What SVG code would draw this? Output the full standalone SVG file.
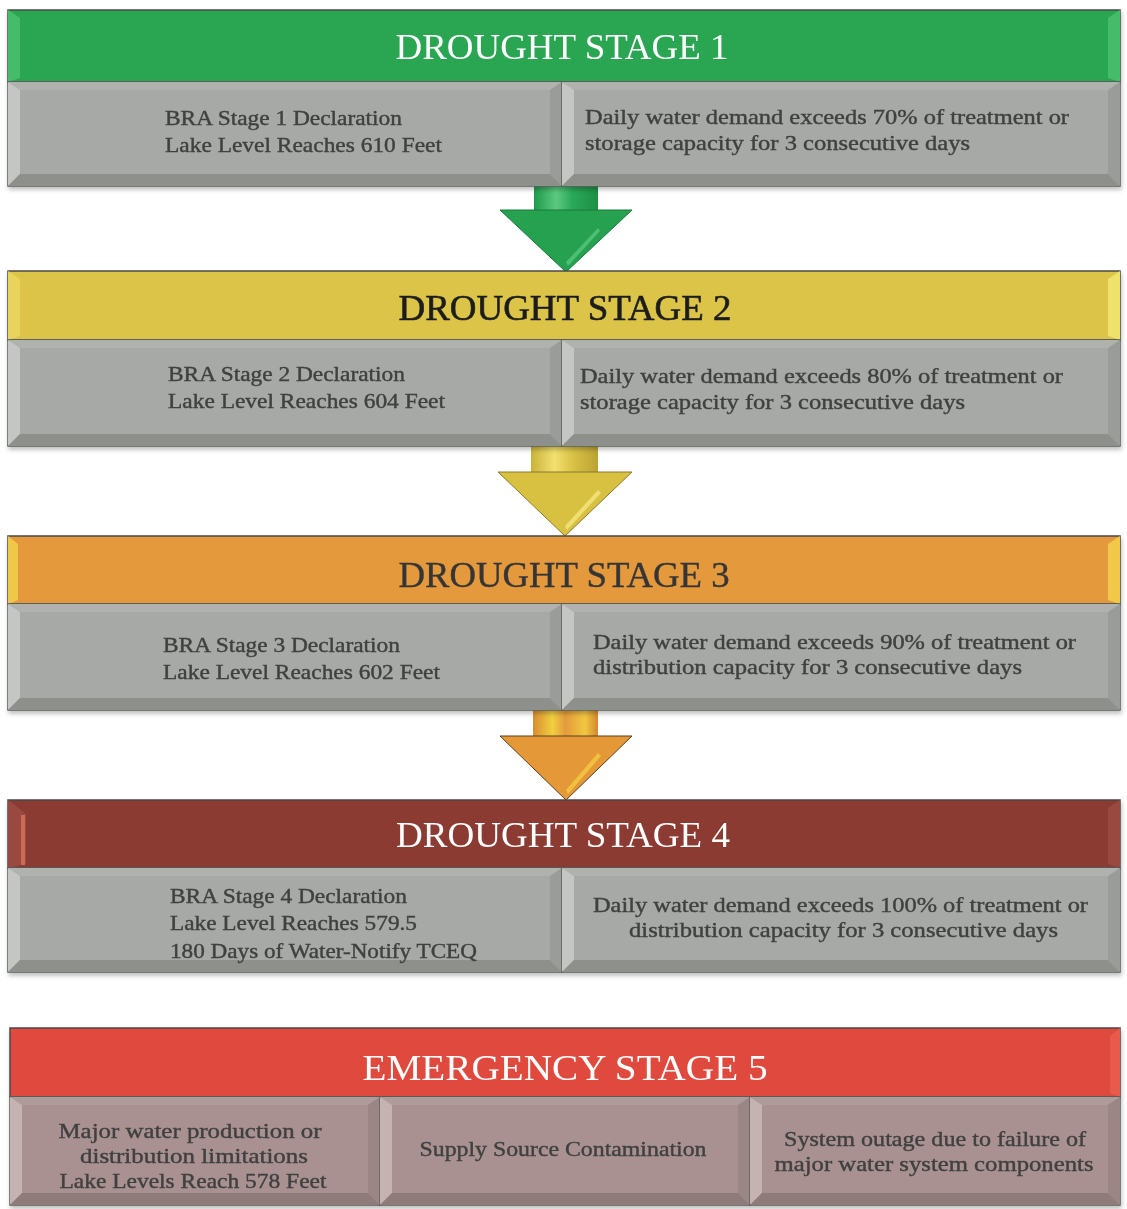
<svg xmlns="http://www.w3.org/2000/svg" width="1127" height="1209" viewBox="0 0 1127 1209">
<style>
.base{fill:#a6a9a5;stroke:#5c5e5b;stroke-width:1.5}
.bt{fill:#afb2ae}.bl{fill:#c3c6c2}.br{fill:#999c98}.bb{fill:#8e908c}
.pink .base{fill:#a89190}.pink .bt{fill:#af9b9a}.pink .bl{fill:#c4b3b2}.pink .br{fill:#9c8685}.pink .bb{fill:#8f7b7a}
.body{font-family:"Liberation Serif","Times New Roman",serif;font-size:21px;fill:#404040;stroke:#404040;stroke-width:0.4}
.title{font-family:"Liberation Serif","Times New Roman",serif;font-size:36px;text-anchor:middle}
.ban{stroke:#4a4a4a;stroke-width:1.5}
</style>
<defs>
<linearGradient id="gShaft" x1="0" x2="1" y1="0" y2="0"><stop offset="0" stop-color="#1f9a4a"/><stop offset="0.35" stop-color="#5cc980"/><stop offset="0.6" stop-color="#2aa85a"/><stop offset="1" stop-color="#1d8f44"/></linearGradient>
<linearGradient id="yShaft" x1="0" x2="1" y1="0" y2="0"><stop offset="0" stop-color="#c9b23a"/><stop offset="0.35" stop-color="#f2e070"/><stop offset="0.6" stop-color="#dcc448"/><stop offset="1" stop-color="#b9a232"/></linearGradient>
<linearGradient id="oShaft" x1="0" x2="1" y1="0" y2="0"><stop offset="0" stop-color="#d98c32"/><stop offset="0.3" stop-color="#f0d040"/><stop offset="0.5" stop-color="#e49a3c"/><stop offset="0.8" stop-color="#f0c840"/><stop offset="1" stop-color="#d4862e"/></linearGradient>
<filter id="sh" x="-5%" y="-10%" width="110%" height="130%"><feDropShadow dx="1" dy="3" stdDeviation="2" flood-color="#000" flood-opacity="0.25"/></filter>
</defs>

<g id="connectors">
<g id="arrow1">
<rect x="534" y="183" width="64" height="28" fill="url(#gShaft)"/>
<polygon points="500,210 632,210 566,272" fill="#25a150" stroke="#1c7a3c" stroke-width="1"/>
<polygon points="566,262 598,228 600,231 568,266" fill="#5ccc84" opacity="0.7"/>
</g>
<g id="arrow2">
<rect x="531" y="446" width="67" height="27" fill="url(#yShaft)"/>
<polygon points="498,472 632,472 565,536" fill="#d8c040" stroke="#8a7a30" stroke-width="1"/>
<polygon points="565,526 598,490 601,493 567,530" fill="#f5e680" opacity="0.8"/>
</g>
<g id="arrow3">
<rect x="533" y="708" width="65" height="29" fill="url(#oShaft)"/>
<polygon points="500,736 632,736 566,800" fill="#e49838" stroke="#5a4020" stroke-width="1"/>
<polygon points="566,790 598,753 601,756 568,794" fill="#f2c840" opacity="0.85"/>
</g>
</g>

<g id="stage1" filter="url(#sh)">
<rect class="ban" x="8" y="10" width="1112" height="72" fill="#2ba653"/>
<polygon points="8,10 20,18 20,78 8,82" fill="#45bc6b"/>
<polygon points="1120,10 1108,18 1108,78 1120,82" fill="#45bc6b"/>
<text class="title" x="562" y="59" fill="#ffffff" textLength="333" lengthAdjust="spacingAndGlyphs">DROUGHT STAGE 1</text>
<g id="s1-left">
<rect class="base" x="8" y="82" width="554" height="104"/>
<polygon class="bt" points="8,82 562,82 550,90 20,90"/>
<polygon class="bl" points="8,82 20,90 20,174 8,186"/>
<polygon class="br" points="562,82 562,186 550,174 550,90"/>
<polygon class="bb" points="8,186 562,186 550,174 20,174"/>
<text class="body" x="165" y="125" textLength="237" lengthAdjust="spacingAndGlyphs">BRA Stage 1 Declaration</text>
<text class="body" x="165" y="152" textLength="277" lengthAdjust="spacingAndGlyphs">Lake Level Reaches 610 Feet</text>
</g>
<g id="s1-right">
<rect class="base" x="562" y="82" width="558" height="104"/>
<polygon class="bt" points="562,82 1120,82 1108,90 574,90"/>
<polygon class="bl" points="562,82 574,90 574,174 562,186"/>
<polygon class="br" points="1120,82 1120,186 1108,174 1108,90"/>
<polygon class="bb" points="562,186 1120,186 1108,174 574,174"/>
<text class="body" x="585" y="124" textLength="484" lengthAdjust="spacingAndGlyphs">Daily water demand exceeds 70% of treatment or</text>
<text class="body" x="585" y="150" textLength="385" lengthAdjust="spacingAndGlyphs">storage capacity for 3 consecutive days</text>
</g>
</g>

<g id="stage2" filter="url(#sh)">
<rect class="ban" x="8" y="271" width="1112" height="69" fill="#dcc448"/>
<polygon points="8,271 20,279 20,336 8,340" fill="#e8d45c"/>
<polygon points="1120,271 1108,279 1108,336 1120,340" fill="#eee26a"/>
<text class="title" x="565" y="320" fill="#1e1e1e" stroke="#1e1e1e" stroke-width="0.6" textLength="333" lengthAdjust="spacingAndGlyphs">DROUGHT STAGE 2</text>
<g id="s2-left">
<rect class="base" x="8" y="340" width="554" height="106"/>
<polygon class="bt" points="8,340 562,340 550,348 20,348"/>
<polygon class="bl" points="8,340 20,348 20,434 8,446"/>
<polygon class="br" points="562,340 562,446 550,434 550,348"/>
<polygon class="bb" points="8,446 562,446 550,434 20,434"/>
<text class="body" x="168" y="381" textLength="237" lengthAdjust="spacingAndGlyphs">BRA Stage 2 Declaration</text>
<text class="body" x="168" y="408" textLength="277" lengthAdjust="spacingAndGlyphs">Lake Level Reaches 604 Feet</text>
</g>
<g id="s2-right">
<rect class="base" x="562" y="340" width="558" height="106"/>
<polygon class="bt" points="562,340 1120,340 1108,348 574,348"/>
<polygon class="bl" points="562,340 574,348 574,434 562,446"/>
<polygon class="br" points="1120,340 1120,446 1108,434 1108,348"/>
<polygon class="bb" points="562,446 1120,446 1108,434 574,434"/>
<text class="body" x="580" y="383" textLength="483" lengthAdjust="spacingAndGlyphs">Daily water demand exceeds 80% of treatment or</text>
<text class="body" x="580" y="409" textLength="385" lengthAdjust="spacingAndGlyphs">storage capacity for 3 consecutive days</text>
</g>
</g>

<g id="stage3" filter="url(#sh)">
<rect class="ban" x="8" y="536" width="1112" height="68" fill="#e4993e"/>
<polygon points="8,536 18,544 18,600 8,604" fill="#f0c848"/>
<polygon points="1120,536 1108,544 1108,600 1120,604" fill="#f2c84a"/>
<text class="title" x="564" y="587" fill="#363636" stroke="#363636" stroke-width="0.4" textLength="331" lengthAdjust="spacingAndGlyphs">DROUGHT STAGE 3</text>
<g id="s3-left">
<rect class="base" x="8" y="604" width="554" height="106"/>
<polygon class="bt" points="8,604 562,604 550,612 20,612"/>
<polygon class="bl" points="8,604 20,612 20,698 8,710"/>
<polygon class="br" points="562,604 562,710 550,698 550,612"/>
<polygon class="bb" points="8,710 562,710 550,698 20,698"/>
<text class="body" x="163" y="652" textLength="237" lengthAdjust="spacingAndGlyphs">BRA Stage 3 Declaration</text>
<text class="body" x="163" y="679" textLength="277" lengthAdjust="spacingAndGlyphs">Lake Level Reaches 602 Feet</text>
</g>
<g id="s3-right">
<rect class="base" x="562" y="604" width="558" height="106"/>
<polygon class="bt" points="562,604 1120,604 1108,612 574,612"/>
<polygon class="bl" points="562,604 574,612 574,698 562,710"/>
<polygon class="br" points="1120,604 1120,710 1108,698 1108,612"/>
<polygon class="bb" points="562,710 1120,710 1108,698 574,698"/>
<text class="body" x="593" y="649" textLength="483" lengthAdjust="spacingAndGlyphs">Daily water demand exceeds 90% of treatment or</text>
<text class="body" x="593" y="674" textLength="429" lengthAdjust="spacingAndGlyphs">distribution capacity for 3 consecutive days</text>
</g>
</g>

<g id="stage4" filter="url(#sh)">
<rect class="ban" x="8" y="800" width="1112" height="68" fill="#8b3b33"/>
<polygon points="8,800 26,814 26,864 8,868" fill="#9a4a40"/>
<rect x="21" y="815" width="4" height="50" fill="#d06a58"/>
<polygon points="1120,800 1108,808 1108,864 1120,868" fill="#9a4a40"/>
<text class="title" x="563" y="847" fill="#ffffff" textLength="334" lengthAdjust="spacingAndGlyphs">DROUGHT STAGE 4</text>
<g id="s4-left">
<rect class="base" x="8" y="868" width="554" height="104"/>
<polygon class="bt" points="8,868 562,868 550,876 20,876"/>
<polygon class="bl" points="8,868 20,876 20,960 8,972"/>
<polygon class="br" points="562,868 562,972 550,960 550,876"/>
<polygon class="bb" points="8,972 562,972 550,960 20,960"/>
<text class="body" x="170" y="903" textLength="237" lengthAdjust="spacingAndGlyphs" fill="#555" stroke="#555">BRA Stage 4 Declaration</text>
<text class="body" x="170" y="930" textLength="247" lengthAdjust="spacingAndGlyphs" fill="#555" stroke="#555">Lake Level Reaches 579.5</text>
<text class="body" x="170" y="958" textLength="307" lengthAdjust="spacingAndGlyphs" fill="#555" stroke="#555">180 Days of Water-Notify TCEQ</text>
</g>
<g id="s4-right">
<rect class="base" x="562" y="868" width="558" height="104"/>
<polygon class="bt" points="562,868 1120,868 1108,876 574,876"/>
<polygon class="bl" points="562,868 574,876 574,960 562,972"/>
<polygon class="br" points="1120,868 1120,972 1108,960 1108,876"/>
<polygon class="bb" points="562,972 1120,972 1108,960 574,960"/>
<text class="body" x="593" y="912" textLength="495" lengthAdjust="spacingAndGlyphs" fill="#555" stroke="#555">Daily water demand exceeds 100% of treatment or</text>
<text class="body" x="629" y="937" textLength="429" lengthAdjust="spacingAndGlyphs" fill="#555" stroke="#555">distribution capacity for 3 consecutive days</text>
</g>
</g>

<g id="stage5" filter="url(#sh)">
<rect class="ban" x="10" y="1028" width="1110" height="69" fill="#e0493c"/>
<polygon points="1120,1028 1110,1036 1110,1093 1120,1097" fill="#e85a4c"/>
<text class="title" x="565" y="1080" fill="#ffffff" font-size="38" textLength="405" lengthAdjust="spacingAndGlyphs">EMERGENCY STAGE 5</text>
<g id="s5-a" class="pink">
<rect class="base" x="10" y="1097" width="370" height="108"/>
<polygon class="bt" points="10,1097 380,1097 368,1105 22,1105"/>
<polygon class="bl" points="10,1097 22,1105 22,1193 10,1205"/>
<polygon class="br" points="380,1097 380,1205 368,1193 368,1105"/>
<polygon class="bb" points="10,1205 380,1205 368,1193 22,1193"/>
<text class="body" x="190" y="1138" text-anchor="middle" textLength="263" lengthAdjust="spacingAndGlyphs">Major water production or</text>
<text class="body" x="194" y="1163" text-anchor="middle" textLength="228" lengthAdjust="spacingAndGlyphs">distribution limitations</text>
<text class="body" x="193" y="1188" text-anchor="middle" textLength="267" lengthAdjust="spacingAndGlyphs">Lake Levels Reach 578 Feet</text>
</g>
<g id="s5-b" class="pink">
<rect class="base" x="380" y="1097" width="370" height="108"/>
<polygon class="bt" points="380,1097 750,1097 738,1105 392,1105"/>
<polygon class="bl" points="380,1097 392,1105 392,1193 380,1205"/>
<polygon class="br" points="750,1097 750,1205 738,1193 738,1105"/>
<polygon class="bb" points="380,1205 750,1205 738,1193 392,1193"/>
<text class="body" x="563" y="1156" text-anchor="middle" textLength="287" lengthAdjust="spacingAndGlyphs">Supply Source Contamination</text>
</g>
<g id="s5-c" class="pink">
<rect class="base" x="750" y="1097" width="370" height="108"/>
<polygon class="bt" points="750,1097 1120,1097 1108,1105 762,1105"/>
<polygon class="bl" points="750,1097 762,1105 762,1193 750,1205"/>
<polygon class="br" points="1120,1097 1120,1205 1108,1193 1108,1105"/>
<polygon class="bb" points="750,1205 1120,1205 1108,1193 762,1193"/>
<text class="body" x="935" y="1146" text-anchor="middle" textLength="302" lengthAdjust="spacingAndGlyphs">System outage due to failure of</text>
<text class="body" x="934" y="1171" text-anchor="middle" textLength="319" lengthAdjust="spacingAndGlyphs">major water system components</text>
</g>
</g>
</svg>
